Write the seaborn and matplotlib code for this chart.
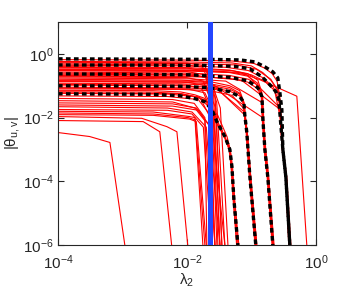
import seaborn as sns
import matplotlib
matplotlib.use("Agg")
import matplotlib.pyplot as plt
import pandas as pd

# ---- data: (lambda values, |theta| values) per path ----
# paths that vanish around lambda ~ 0.4 (outer vertical)
red_far = [
    ([1e-4, 0.01, 0.05, 0.11, 0.16, 0.21, 0.25, 0.275, 0.3, 0.34, 0.385],
     [0.66, 0.64, 0.6, 0.5, 0.36, 0.24, 0.14, 0.05, 3e-3, 1.3e-4, 1e-6]),
    ([1e-4, 0.01, 0.05, 0.1, 0.15, 0.2, 0.25, 0.28, 0.305, 0.35, 0.40],
     [0.58, 0.56, 0.52, 0.42, 0.26, 0.15, 0.08, 0.02, 1.5e-3, 1.2e-4, 1e-6]),
    ([1e-4, 0.01, 0.06, 0.12, 0.2, 0.27, 0.29, 0.31, 0.355, 0.41],
     [0.52, 0.5, 0.45, 0.33, 0.16, 0.06, 8e-3, 1e-3, 1.3e-4, 1e-6]),
    ([1e-4, 0.01, 0.04, 0.09, 0.15, 0.22, 0.27, 0.295, 0.34, 0.39],
     [0.44, 0.42, 0.38, 0.3, 0.18, 0.09, 0.03, 2e-3, 1.3e-4, 1e-6]),
    ([1e-4, 0.01, 0.05, 0.1, 0.16, 0.23, 0.28, 0.3, 0.35, 0.40],
     [0.36, 0.34, 0.3, 0.22, 0.14, 0.07, 0.01, 1e-3, 1e-4, 1e-6]),
    ([1e-4, 0.01, 0.05, 0.085, 0.28, 0.3, 0.34, 0.38],
     [0.3, 0.29, 0.26, 0.22, 0.02, 1.5e-3, 1.3e-4, 1e-6]),
    ([1e-4, 0.02, 0.07, 0.28, 0.31, 0.345, 0.395],
     [0.2, 0.19, 0.15, 0.018, 1e-3, 1.3e-4, 1e-6]),
    ([1e-4, 0.02, 0.066, 0.135, 0.507, 0.724],
     [0.32, 0.3, 0.26, 0.155, 0.047, 1e-6]),
]

# paths that vanish around lambda ~ 0.21
red_d = [
    ([1e-4, 0.011, 0.046, 0.088, 0.126, 0.146, 0.152, 0.163, 0.182, 0.22],
     [0.40, 0.37, 0.31, 0.24, 0.15, 0.06, 9e-3, 1e-3, 1.3e-4, 1e-6]),
    ([1e-4, 0.011, 0.046, 0.088, 0.125, 0.142, 0.148, 0.158, 0.176, 0.21],
     [0.33, 0.31, 0.26, 0.2, 0.12, 0.05, 8e-3, 1e-3, 1.3e-4, 1e-6]),
    ([1e-4, 0.011, 0.046, 0.09, 0.13, 0.15, 0.156, 0.167, 0.186, 0.225],
     [0.27, 0.25, 0.21, 0.16, 0.1, 0.045, 8e-3, 1e-3, 1.3e-4, 1e-6]),
    ([1e-4, 0.011, 0.046, 0.088, 0.126, 0.146, 0.151, 0.162, 0.18, 0.215],
     [0.21, 0.2, 0.17, 0.13, 0.08, 0.04, 8e-3, 1e-3, 1.3e-4, 1e-6]),
    ([1e-4, 0.011, 0.04, 0.145, 0.15, 0.16, 0.178, 0.212],
     [0.175, 0.165, 0.14, 0.03, 8e-3, 1e-3, 1.3e-4, 1e-6]),
    ([1e-4, 0.01, 0.023, 0.15, 0.165, 0.185, 0.22],
     [0.145, 0.14, 0.125, 0.01, 1e-3, 1.3e-4, 1e-6]),
]

# paths that vanish around lambda ~ 0.12
red_c = [
    ([1e-4, 0.008, 0.023, 0.046, 0.066, 0.077, 0.08, 0.086, 0.096, 0.12],
     [0.16, 0.15, 0.135, 0.1, 0.07, 0.03, 0.012, 3.4e-3, 1.3e-4, 1e-6]),
    ([1e-4, 0.008, 0.023, 0.046, 0.065, 0.075, 0.078, 0.083, 0.093, 0.114],
     [0.135, 0.13, 0.115, 0.088, 0.06, 0.028, 0.012, 3.4e-3, 1.3e-4, 1e-6]),
    ([1e-4, 0.008, 0.023, 0.046, 0.067, 0.078, 0.081, 0.087, 0.098, 0.122],
     [0.12, 0.115, 0.104, 0.078, 0.054, 0.026, 0.011, 3e-3, 1.3e-4, 1e-6]),
    ([1e-4, 0.008, 0.023, 0.046, 0.066, 0.077, 0.079, 0.085, 0.095, 0.117],
     [0.105, 0.1, 0.09, 0.068, 0.048, 0.025, 0.011, 3e-3, 1.3e-4, 1e-6]),
    ([1e-4, 0.01, 0.019, 0.079, 0.085, 0.095, 0.118],
     [0.23, 0.22, 0.19, 0.012, 3.4e-3, 1.3e-4, 1e-6]),
    ([1e-4, 0.01, 0.03, 0.078, 0.084, 0.094, 0.115],
     [0.09, 0.086, 0.075, 0.015, 3.4e-3, 1.3e-4, 1e-6]),
    ([1e-4, 0.008, 0.023, 0.05, 0.075, 0.08, 0.087, 0.098, 0.12],
     [0.08, 0.077, 0.07, 0.05, 0.02, 0.01, 3e-3, 1.3e-4, 1e-6]),
]

# paths that vanish around lambda ~ 0.06
red_b = [
    ([1e-4, 0.003, 0.008, 0.0133, 0.019, 0.025, 0.03, 0.039, 0.047, 0.051, 0.055, 0.064],
     [0.072, 0.07, 0.064, 0.052, 0.04, 0.018, 7.5e-3, 2.5e-3, 1e-3, 3e-4, 2.7e-5, 1e-6]),
    ([1e-4, 0.003, 0.008, 0.0133, 0.019, 0.024, 0.0285, 0.038, 0.045, 0.0485, 0.052, 0.06],
     [0.065, 0.063, 0.057, 0.046, 0.036, 0.016, 7e-3, 2.5e-3, 1e-3, 3e-4, 2.7e-5, 1e-6]),
    ([1e-4, 0.005, 0.015, 0.03, 0.042, 0.047, 0.052, 0.062],
     [0.058, 0.055, 0.045, 0.012, 2.5e-3, 1e-3, 1e-4, 1e-6]),
    ([1e-4, 0.005, 0.015, 0.035, 0.046, 0.05, 0.059],
     [0.048, 0.046, 0.037, 4e-3, 1e-3, 1.5e-4, 1e-6]),
]

# paths that drop right after the selected lambda
red_a = [
    ([1e-4, 0.01, 0.019, 0.0272, 0.0349], [0.55, 0.52, 0.42, 0.06, 1e-6]),
    ([1e-4, 0.01, 0.0177, 0.026, 0.0325], [0.48, 0.45, 0.38, 0.05, 1e-6]),
    ([1e-4, 0.01, 0.02, 0.029, 0.0388], [0.38, 0.36, 0.29, 0.03, 1e-6]),
    ([1e-4, 0.01, 0.019, 0.025, 0.0303], [0.3, 0.28, 0.22, 0.04, 1e-6]),
    ([1e-4, 0.012, 0.023, 0.033, 0.0433], [0.25, 0.23, 0.17, 0.02, 1e-6]),
    ([1e-4, 0.01, 0.018, 0.024, 0.0292], [0.19, 0.18, 0.14, 0.03, 1e-6]),
    ([1e-4, 0.01, 0.02, 0.028, 0.0349], [0.14, 0.13, 0.1, 0.02, 1e-6]),
    ([1e-4, 0.01, 0.017, 0.023, 0.0272], [0.11, 0.105, 0.08, 0.02, 1e-6]),
    ([1e-4, 0.01, 0.019, 0.026, 0.0325], [0.085, 0.08, 0.06, 0.015, 1e-6]),
    ([1e-4, 0.008, 0.016, 0.022, 0.0272], [0.06, 0.056, 0.042, 0.012, 1e-6]),
    ([1e-4, 0.006, 0.013, 0.019, 0.0244], [0.04, 0.037, 0.028, 0.01, 1e-6]),
    ([1e-4, 0.006, 0.0133, 0.019, 0.0204], [0.034, 0.031, 0.02, 8e-3, 1e-6]),
    ([1e-4, 0.006, 0.014, 0.022, 0.0325], [0.029, 0.027, 0.02, 6e-3, 1e-6]),
    ([1e-4, 0.006, 0.015, 0.025, 0.0388], [0.025, 0.023, 0.017, 4e-3, 1e-6]),
    ([1e-4, 0.005, 0.012, 0.02, 0.0272], [0.022, 0.02, 0.015, 5e-3, 1e-6]),
    ([1e-4, 0.005, 0.012, 0.018, 0.024], [0.018, 0.017, 0.013, 5e-3, 1e-6]),
]

# small paths that vanish early
red_low = [
    ([1e-4, 3.1e-4, 6.4e-4, 1.09e-3], [3.4e-3, 2.55e-3, 1.66e-3, 1e-6]),
    ([1e-4, 2.1e-3, 3.8e-3, 5.8e-3], [8.1e-3, 7.5e-3, 3.6e-3, 1e-6]),
    ([1e-4, 2e-3, 4.9e-3, 7e-3, 0.0103], [0.0108, 0.0095, 5.2e-3, 3.6e-3, 1e-6]),
    ([1e-4, 3e-3, 0.011, 0.0133, 0.0177], [0.0158, 0.015, 0.0108, 0.01, 1e-6]),
    ([1e-4, 3e-3, 0.0105, 0.0135, 0.019], [0.014, 0.013, 0.01, 8.5e-3, 1e-6]),
    ([1e-4, 3e-3, 0.011, 0.014, 0.02], [0.0124, 0.0118, 9e-3, 7.5e-3, 1e-6]),
]

# black dashed reference paths
black_paths = [
    ([1e-4, 0.0227, 0.0664, 0.113, 0.162, 0.215, 0.257, 0.277, 0.297, 0.308, 0.343, 0.395],
     [0.70, 0.673, 0.649, 0.562, 0.393, 0.274, 0.178, 0.0604, 0.0178, 1e-3, 1.33e-4, 1e-6]),
    ([1e-4, 0.0158, 0.0555, 0.095, 0.146, 0.194, 0.240, 0.267, 0.286, 0.308, 0.343, 0.395],
     [0.45, 0.437, 0.407, 0.34, 0.191, 0.107, 0.065, 0.036, 6.04e-3, 1e-3, 1.33e-4, 1e-6]),
    ([1e-4, 0.0111, 0.0464, 0.0883, 0.126, 0.146, 0.151, 0.162, 0.180, 0.215],
     [0.237, 0.221, 0.184, 0.143, 0.0866, 0.0453, 8.66e-3, 1e-3, 1.33e-4, 1e-6]),
    ([1e-4, 7.78e-3, 0.0227, 0.0464, 0.0664, 0.0766, 0.079, 0.085, 0.095, 0.117],
     [0.10, 0.0964, 0.0866, 0.065, 0.0453, 0.0294, 0.0124, 3.4e-3, 1.33e-4, 1e-6]),
    ([1e-4, 2.67e-3, 7.78e-3, 0.0133, 0.019, 0.0244, 0.0292, 0.0388, 0.0464, 0.0499, 0.0536, 0.0618],
     [0.056, 0.054, 0.0487, 0.0393, 0.0316, 0.0178, 7.5e-3, 2.55e-3, 1e-3, 2.95e-4, 2.74e-5, 1e-6]),
]

lam_star = 0.023  # selected lambda_2 (blue line)


def to_frame(paths):
    rows = []
    for i, (lam, th) in enumerate(paths):
        for l, t in zip(lam, th):
            rows.append({"path": i, "lam": l, "theta": t})
    return pd.DataFrame(rows)


red_df = to_frame(red_far + red_d + red_c + red_b + red_a + red_low)
black_df = to_frame(black_paths)

sns.set_style("ticks")
plt.rcParams["font.family"] = ["Liberation Sans", "DejaVu Sans"]
plt.rcParams["mathtext.fontset"] = "custom"
plt.rcParams["mathtext.rm"] = "Liberation Sans"
plt.rcParams["mathtext.it"] = "Liberation Sans"

fig = plt.figure(figsize=(3.49, 2.90), dpi=100)
ax = fig.add_axes([0.166, 0.155, 0.739, 0.769])
ax.set_xscale("log")
ax.set_yscale("log")

sns.lineplot(data=red_df, x="lam", y="theta", units="path", estimator=None,
             sort=False, color="#ff0000", lw=0.8, ax=ax, legend=False)
sns.lineplot(data=black_df, x="lam", y="theta", units="path", estimator=None,
             sort=False, color="black", lw=2.4, linestyle=(0, (1.4, 1.0)),
             ax=ax, legend=False)
ax.axvline(lam_star, color="#2446ff", lw=3.6, zorder=5)

ax.set_xlim(1e-4, 1e0)
ax.set_ylim(1e-6, 1e1)
ax.set_xticks([1e-4, 1e-2, 1e0])
ax.set_yticks([1e-6, 1e-4, 1e-2, 1e0])
ax.minorticks_off()
ax.tick_params(which="both", direction="in", top=True, right=True,
               length=4, width=0.8, labelsize=11)
ax.tick_params(axis="x", pad=6)
ax.tick_params(axis="y", pad=3)
for s in ax.spines.values():
    s.set_linewidth(0.8)

ax.set_xlabel(r"$\mathregular{\lambda_2}$", fontsize=11, labelpad=0)
ax.set_ylabel(r"$\mathregular{|\theta_{u,v}|}$", fontsize=11)
ax.yaxis.set_label_coords(-0.14, 0.5)

fig.savefig("out.png", dpi=100)
